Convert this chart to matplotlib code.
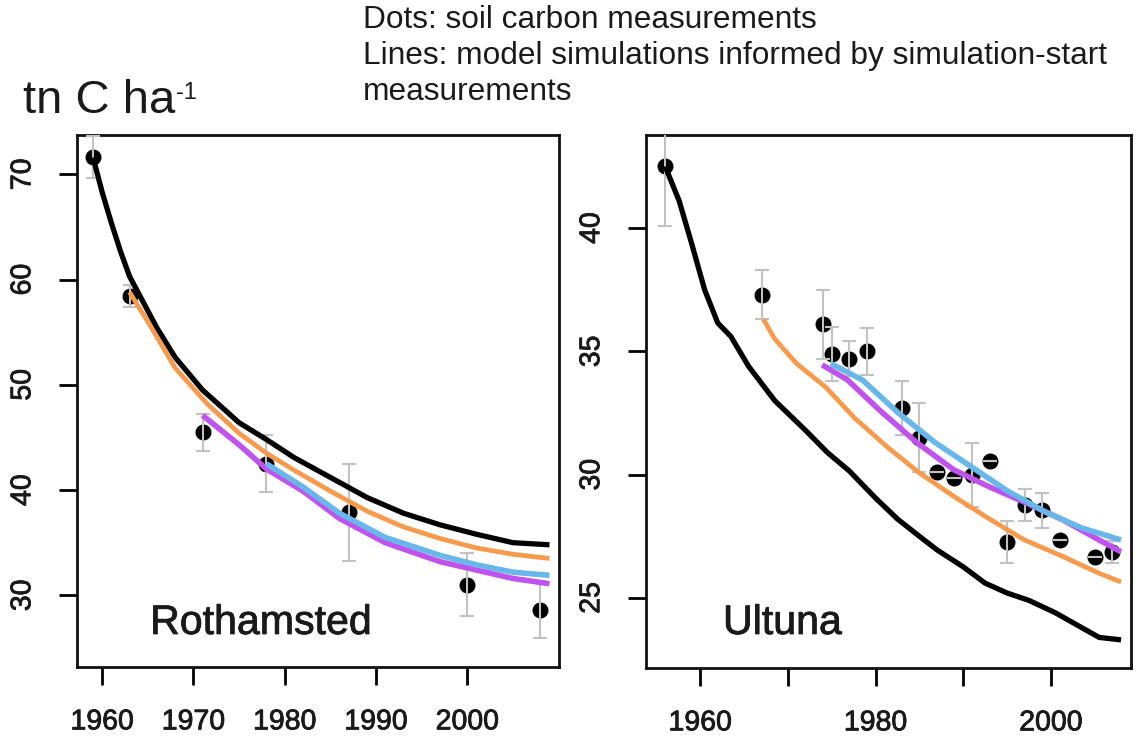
import matplotlib
matplotlib.use("Agg")
import matplotlib.pyplot as plt
import matplotlib.patheffects as pe

plt.rcParams['font.family'] = ['Liberation Sans', 'DejaVu Sans']

# ---------------- Rothamsted ----------------
roth_obs_years = [1959, 1963, 1971, 1978, 1987, 2000, 2008]
roth_obs_vals = [71.6, 58.4, 45.5, 42.5, 37.9, 31.0, 28.6]
roth_obs_err = [2.0, 1.05, 1.75, 2.7, 4.6, 3.0, 2.7]

roth_black_years = [1959, 1960, 1961, 1962, 1963, 1966, 1968, 1971, 1975, 1978, 1981, 1985,
                    1989, 1993, 1997, 2001, 2005, 2009]
roth_black_vals = [71.6, 68.3, 65.4, 62.7, 60.3, 55.4, 52.6, 49.5, 46.4, 44.8, 43.1, 41.2,
                   39.3, 37.8, 36.7, 35.8, 35.0, 34.8]

roth_orange_years = [1963, 1965, 1968, 1971.5, 1975, 1978, 1981, 1985, 1989, 1993, 1997, 2001, 2005, 2009]
roth_orange_vals = [58.8, 56.0, 51.6, 48.2, 45.4, 43.5, 41.9, 39.9, 38.0, 36.5, 35.4, 34.5, 33.9, 33.5]

roth_magenta_years = [1971, 1975, 1978, 1982, 1986, 1991, 1997, 2001, 2005, 2009]
roth_magenta_vals = [47.1, 44.3, 42.0, 39.9, 37.3, 35.0, 33.2, 32.4, 31.6, 31.1]

roth_cyan_years = [1978, 1982, 1986, 1991, 1997, 2001, 2005, 2009]
roth_cyan_vals = [42.5, 40.3, 37.8, 35.5, 33.8, 32.9, 32.2, 31.9]

# ---------------- Ultuna ----------------
ult_obs_years = [1956, 1967, 1974, 1975, 1977, 1979, 1983, 1985, 1987, 1989, 1991, 1993,
                 1995, 1997, 1999, 2001, 2005, 2007]
ult_obs_vals = [42.5, 37.3, 36.1, 34.9, 34.7, 35.0, 32.7, 31.5, 30.1, 29.85, 30.0, 30.55,
                27.25, 28.75, 28.55, 27.35, 26.65, 26.85]
ult_obs_err = [2.4, 1.0, 1.4, 1.1, 0.7, 0.95, 1.1, 1.4, 0.0, 0.0, 1.3, 0.0,
               0.85, 0.65, 0.7, 0.0, 0.0, 0.45]

ult_black_years = [1956, 1957.6, 1959, 1960.5, 1962, 1963.5, 1965.5, 1968.5, 1972, 1974.5, 1977,
                   1980, 1982.5, 1985, 1987, 1990, 1992.5, 1995, 1997.5, 2000.5, 2003.5, 2005.5, 2008]
ult_black_vals = [42.5, 41.1, 39.4, 37.5, 36.15, 35.6, 34.4, 33.0, 31.8, 30.9, 30.15,
                  29.05, 28.2, 27.5, 26.95, 26.26, 25.6, 25.2, 24.9, 24.4, 23.8, 23.4, 23.3]

ult_orange_years = [1967.2, 1968.5, 1971, 1974.3, 1977.6, 1981.4, 1985, 1989, 1993, 1997, 2001.5, 2005.5, 2008]
ult_orange_vals = [36.3, 35.5, 34.5, 33.55, 32.3, 31.1, 30.07, 29.1, 28.2, 27.35, 26.66, 26.0, 25.65]

ult_magenta_years = [1973.9, 1976.8, 1980.5, 1984.7, 1988.9, 1993, 1997.2, 2001.4, 2005.5, 2008]
ult_magenta_vals = [34.45, 33.84, 32.6, 31.3, 30.2, 29.5, 28.85, 28.16, 27.35, 26.87]

ult_cyan_years = [1974.9, 1978.5, 1982.6, 1986.8, 1991, 1995, 1999.3, 2003.5, 2008]
ult_cyan_vals = [34.5, 33.84, 32.5, 31.3, 30.3, 29.35, 28.5, 27.84, 27.35]

# tick setup
roth_yticks = [30, 40, 50, 60, 70]
ult_yticks = [25, 30, 35, 40]
xticks = [1960, 1970, 1980, 1990, 2000]
roth_xticklabels = ['1960', '1970', '1980', '1990', '2000']
ult_xticklabels = ['1960', '', '1980', '', '2000']

C_BLACK = '#000000'
C_ORANGE = '#F79A4B'
C_MAGENTA = '#C052EE'
C_CYAN = '#67B7EB'
C_ERR = '#C2C2C2'
TXT = '#1a1a1a'
THICK = [pe.withStroke(linewidth=0.6, foreground=TXT)]

W, H = 1142, 738
fig = plt.figure(figsize=(W / 100, H / 100), dpi=100)

ax1 = fig.add_axes([76.6 / W, 1 - 667 / H, 482 / W, 532 / H])
ax2 = fig.add_axes([645.5 / W, 1 - 668 / H, 485.2 / W, 533 / H])


def draw_panel(ax, oy, ov, oe, lines, yticks, xlabels, xlim, ylim, name, name_xy):
    ax.plot(oy, ov, 'o', color='black', markersize=10.5, zorder=2)
    ax.errorbar(oy, ov, yerr=oe, fmt='none', ecolor=C_ERR, elinewidth=1.5,
                capsize=4.7, capthick=1.5, zorder=3)
    for yrs, vals, col, lw in lines:
        ax.plot(yrs, vals, color=col, lw=lw, solid_capstyle='butt',
                solid_joinstyle='round', zorder=4)
    ax.set_xlim(*xlim)
    ax.set_ylim(*ylim)
    ax.set_xticks(xticks)
    ax.set_xticklabels(xlabels)
    ax.set_yticks(yticks)
    ax.set_yticklabels([str(t) for t in yticks])
    ax.tick_params(axis='x', length=13, width=2.0, pad=17.5, labelsize=20.5, labelcolor=TXT)
    ax.tick_params(axis='y', length=13, width=2.0, pad=16, labelsize=20.5, labelcolor=TXT)
    for lab in ax.get_yticklabels():
        lab.set_rotation(90)
        lab.set_va('center')
    for lab in ax.get_xticklabels() + ax.get_yticklabels():
        lab.set_path_effects(THICK)
    for sp in ax.spines.values():
        sp.set_linewidth(2.0)
        sp.set_color('#111111')
    ax.text(name_xy[0], name_xy[1], name, fontsize=29.6, color=TXT, ha='left',
            va='baseline', path_effects=THICK)


draw_panel(ax1, roth_obs_years, roth_obs_vals, roth_obs_err,
           [(roth_black_years, roth_black_vals, C_BLACK, 3.8),
            (roth_orange_years, roth_orange_vals, C_ORANGE, 3.4),
            (roth_magenta_years, roth_magenta_vals, C_MAGENTA, 4.0),
            (roth_cyan_years, roth_cyan_vals, C_CYAN, 4.0)],
           roth_yticks, roth_xticklabels, (1957.2, 2010.0), (23.19, 73.73),
           'Rothamsted', (1965.25, 26.33))

draw_panel(ax2, ult_obs_years, ult_obs_vals, ult_obs_err,
           [(ult_black_years, ult_black_vals, C_BLACK, 3.8),
            (ult_orange_years, ult_orange_vals, C_ORANGE, 3.4),
            (ult_magenta_years, ult_magenta_vals, C_MAGENTA, 4.0),
            (ult_cyan_years, ult_cyan_vals, C_CYAN, 4.0)],
           ult_yticks, ult_xticklabels, (1953.76, 2009.1), (22.16, 43.77),
           'Ultuna', (1962.6, 23.54))

# header texts
header_lines = ['Dots: soil carbon measurements',
                'Lines: model simulations informed by simulation-start',
                'measurements']
for i, line in enumerate(header_lines):
    fig.text(363 / W, 1 - (28 + 36 * i) / H, line, fontsize=22.8, color=TXT,
             ha='left', va='baseline')

unit = fig.text(23 / W, 1 - 113 / H, 'tn C ha', fontsize=34, color=TXT,
                ha='left', va='baseline')
fig.canvas.draw()
bb = unit.get_window_extent()
fig.text((bb.x1 + 1) / W, 1 - 99 / H, '-1', fontsize=17, color=TXT,
         ha='left', va='baseline')

fig.savefig('out.png', dpi=100)
